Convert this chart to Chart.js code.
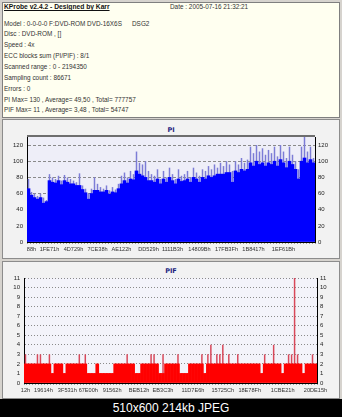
<!DOCTYPE html>
<html><head><meta charset="utf-8">
<script src="https://cdn.jsdelivr.net/npm/chart.js@4.4.1/dist/chart.umd.min.js"></script>
<style>
html,body{margin:0;padding:0;}
body{width:342px;height:417px;background:#D6D3CE;position:relative;overflow:hidden;font-family:'Liberation Sans',Arial,sans-serif;}
.hdr{position:absolute;left:2px;top:2px;width:336px;height:114px;background:#FFFFF0;border:1px solid #7F7F7F;}
.t{position:absolute;font-size:6.4px;color:#333;white-space:nowrap;line-height:8px;}
.b{font-weight:bold;text-decoration:underline;color:#111;font-size:6.7px;}
.panel{position:absolute;left:2px;width:336px;background:#F2F2F2;border:1px solid #8C8C8C;}
.ct{position:absolute;left:0;width:342px;text-align:center;font:bold 6.5px 'DejaVu Sans',sans-serif;color:#1A237E;line-height:8px;}
canvas{position:absolute;left:4px;}
.foot{position:absolute;left:0;top:399px;width:342px;height:18px;background:#000;color:#fff;font-size:12px;text-align:center;line-height:19px;}
</style>
</head><body>
<div class="hdr"></div>
<div class="t b" style="left:4px;top:3px;">KProbe v2.4.2 - Designed by Karr</div>
<div class="t" style="left:170px;top:3px;">Date : 2005-07-16 21:32:21</div>
<div class="t" style="left:4px;top:20px;">Model : 0-0-0-0 F:DVD-ROM DVD-16X6S</div>
<div class="t" style="left:132px;top:20px;">DSG2</div>
<div class="t" style="left:4px;top:30px;">Disc : DVD-ROM , []</div>
<div class="t" style="left:4px;top:41px;">Speed : 4x</div>
<div class="t" style="left:4px;top:52px;">ECC blocks sum (PI/PIF) : 8/1</div>
<div class="t" style="left:4px;top:63px;">Scanned range : 0 - 2194350</div>
<div class="t" style="left:4px;top:74px;">Sampling count : 86671</div>
<div class="t" style="left:4px;top:85px;">Errors : 0</div>
<div class="t" style="left:4px;top:96px;">PI Max= 130 , Average= 49,50 , Total= 777757</div>
<div class="t" style="left:4px;top:106px;">PIF Max= 11 , Average= 3,48 , Total= 54747</div>

<div class="panel" style="top:119px;height:138px;"></div>
<div class="panel" style="top:261px;height:136px;"></div>
<div class="ct" style="top:126px;">PI</div>
<div class="ct" style="top:267px;">PIF</div>
<canvas id="pi" width="334" height="133" style="top:125px;"></canvas>
<canvas id="pif" width="334" height="136" style="top:262px;"></canvas>
<div class="foot">510x600 214kb JPEG</div>

<script>
// ---- PI chart data ----
const piTickLabels = ['88h','1FE71h','4D729h','7CE38h','AE122h','DD529h','1111B3h','14809Bh','17FB3Fh','1B8417h','1EF61Bh'];
const piTickAt = [1,7,15,23,31,40,48,57,66,75,85];
const piPeak = [78,62,60,57,60,55,52,84,
  80,78,82,76,83,80,78,76,74,85,
  70,66,60, 66,80,72,68, 66,70,64,68,65,72,
  82,86,80,88,84, 112,98, 96,100,88,84,
  82,90,78,88,80,92,84,78,90,82,
  84,88,80,92,86,82,90,88,94,
  90,96,92,98,94,100,96,88,
  100,96,104,98,102,
  118,110,120,112,116,108,114,
  110,118,106,120,112,104,118,108,
  100,90,118,130,112,118,104];
const piBase = [66,58,55,53,55,48,50,76,
  74,73,76,71,76,74,72,72,70,70,
  65,61,53, 60,64,64,62, 62,64,59,62,61,66,
  72,76,73,78,77, 88,84, 82,80,76,76,
  74,78,72,78,74,80,76,72,78,75,
  76,78,74,80,78,74,80,78,82,
  80,82,84,84,84,86,86,74,
  88,86,90,88,90,
  98,94,100,96,98,94,98,
  96,100,94,102,98,92,100,96,
  90,78,100,104,98,102,98];
const piYTicks = [0,20,40,60,80,100,120];

// ---- PIF chart data ----
const pifTickLabels = ['12h','19614h','3F531h','67E00h','91562h','BEB12h','EB3C3h','11D7E6h','15725Ch','18E78Fh','1CBE21h','20DE15h'];
const pifTickAt = [0,6,14,21,29,38,46,56,66,75,86,97];
const pifPeak = [3,2,2,2,3,3,2,2,3,1,
  2,2,2,1,2,2,2,2,3,2,
  3,1,1,1,2,1,1,1,1,1,
  2,2,2,2,3,2,2,1,1,2,
  2,2,3,3,2,1,3,2,2,2,
  2,3,1,1,1,2,2,2,2,3,
  1,3,4,2,3,3,4,2,3,2,
  2,3,2,2,2,2,2,2,2,1,
  3,2,2,4,2,2,1,2,3,3,
  11,3,2,1,2,2,3,2];
const pifBase = [2,2,2,2,2,2,2,2,2,1,
  2,2,2,1,2,2,2,2,2,2,
  2,1,1,1,2,1,1,1,1,1,
  2,2,2,2,2,2,2,1,1,2,
  2,2,2,2,2,1,1,2,2,2,
  2,2,1,1,1,2,2,2,2,2,
  1,2,2,2,2,2,2,2,2,2,
  2,2,2,2,2,2,2,2,2,1,
  2,2,2,2,2,2,1,2,2,2,
  2,2,2,1,2,2,2,2];
const pifYTicks = [0,1,2,3,4,5,6,7,8,9,10,11];

function buildLabels(n, at, names){ const a = new Array(n).fill(''); at.forEach((i,k)=>{a[i]=names[k];}); return a; }

Chart.defaults.font.family = "'Liberation Sans', Arial, sans-serif";
Chart.defaults.font.size = 6;
Chart.defaults.color = '#222';

const frame = {
  id:'frame',
  beforeDraw(chart, args, opts){
    const a = chart.chartArea, c = chart.ctx;
    c.save(); c.fillStyle = opts.bg; c.fillRect(a.left, a.top, a.right-a.left, a.bottom-a.top); c.restore();
  },
  afterDraw(chart, args, opts){
    const a = chart.chartArea, c = chart.ctx;
    if (opts.top) {
      c.save(); c.strokeStyle = opts.top; c.lineWidth = 2;
      c.beginPath(); c.moveTo(a.left, a.top-1); c.lineTo(a.right, a.top-1); c.stroke(); c.restore();
    }
  }
};

function makeChart(id, labels, base, peak, yTicks, ymax, cfg){
  const tickFilter = s => { s.ticks = yTicks.map(v => ({value:v})); };
  return new Chart(document.getElementById(id), {
    type:'bar',
    data:{ labels, datasets:[
      {data:base, backgroundColor:cfg.baseColor, barPercentage:1, categoryPercentage:1, grouped:false},
      {data:peak, backgroundColor:cfg.peakColor, barPercentage:0.5, categoryPercentage:1, grouped:false}
    ]},
    options:{
      responsive:false, animation:false, events:[],
      layout:{padding:{top:cfg.padTop,left:0,right:0,bottom:0}},
      plugins:{legend:{display:false}, tooltip:{enabled:false}, frame:{bg:cfg.plotBg, top:cfg.topBorder}},
      scales:{
        x:{ grid:{display:true, drawOnChartArea:false, tickLength:2, color:'#9a9a9a'},
            border:{color:'#000'},
            ticks:{autoSkip:false, maxRotation:0, minRotation:0, padding:2, color:'#333', font:{size:5.6}},
            afterFit(s){ s.height = cfg.xH; } },
        y:{ position:'left', min:0, max:ymax,
            ticks:{padding:4, color:'#222', autoSkip:false}, afterBuildTicks:tickFilter,
            grid:{color:'#8a8a8a', drawTicks:false}, border:{color:'#000', dash:cfg.dash},
            afterFit(s){ s.width = cfg.yL; } },
        y1:{ position:'right', min:0, max:ymax,
            ticks:{padding:3, color:'#222', autoSkip:false}, afterBuildTicks:tickFilter,
            grid:{display:false, drawTicks:false}, border:{color:'#000'},
            afterFit(s){ s.width = cfg.yR; } }
      }
    },
    plugins:[frame]
  });
}

makeChart('pi', buildLabels(piPeak.length, piTickAt, piTickLabels), piBase, piPeak, piYTicks, 130,
  {baseColor:'#0000FF', peakColor:'#7C7CD6', plotBg:'#EEEEF8', topBorder:'#6E6E6E', dash:[3,2], padTop:12, xH:16, yL:23, yR:23});
makeChart('pif', buildLabels(pifPeak.length, pifTickAt, pifTickLabels), pifBase, pifPeak, pifYTicks, 11,
  {baseColor:'#FF0000', peakColor:'#D8485A', plotBg:'#F3F3FA', topBorder:null, dash:[1,2], padTop:16, xH:15, yL:20, yR:21});
</script>
</body></html>
